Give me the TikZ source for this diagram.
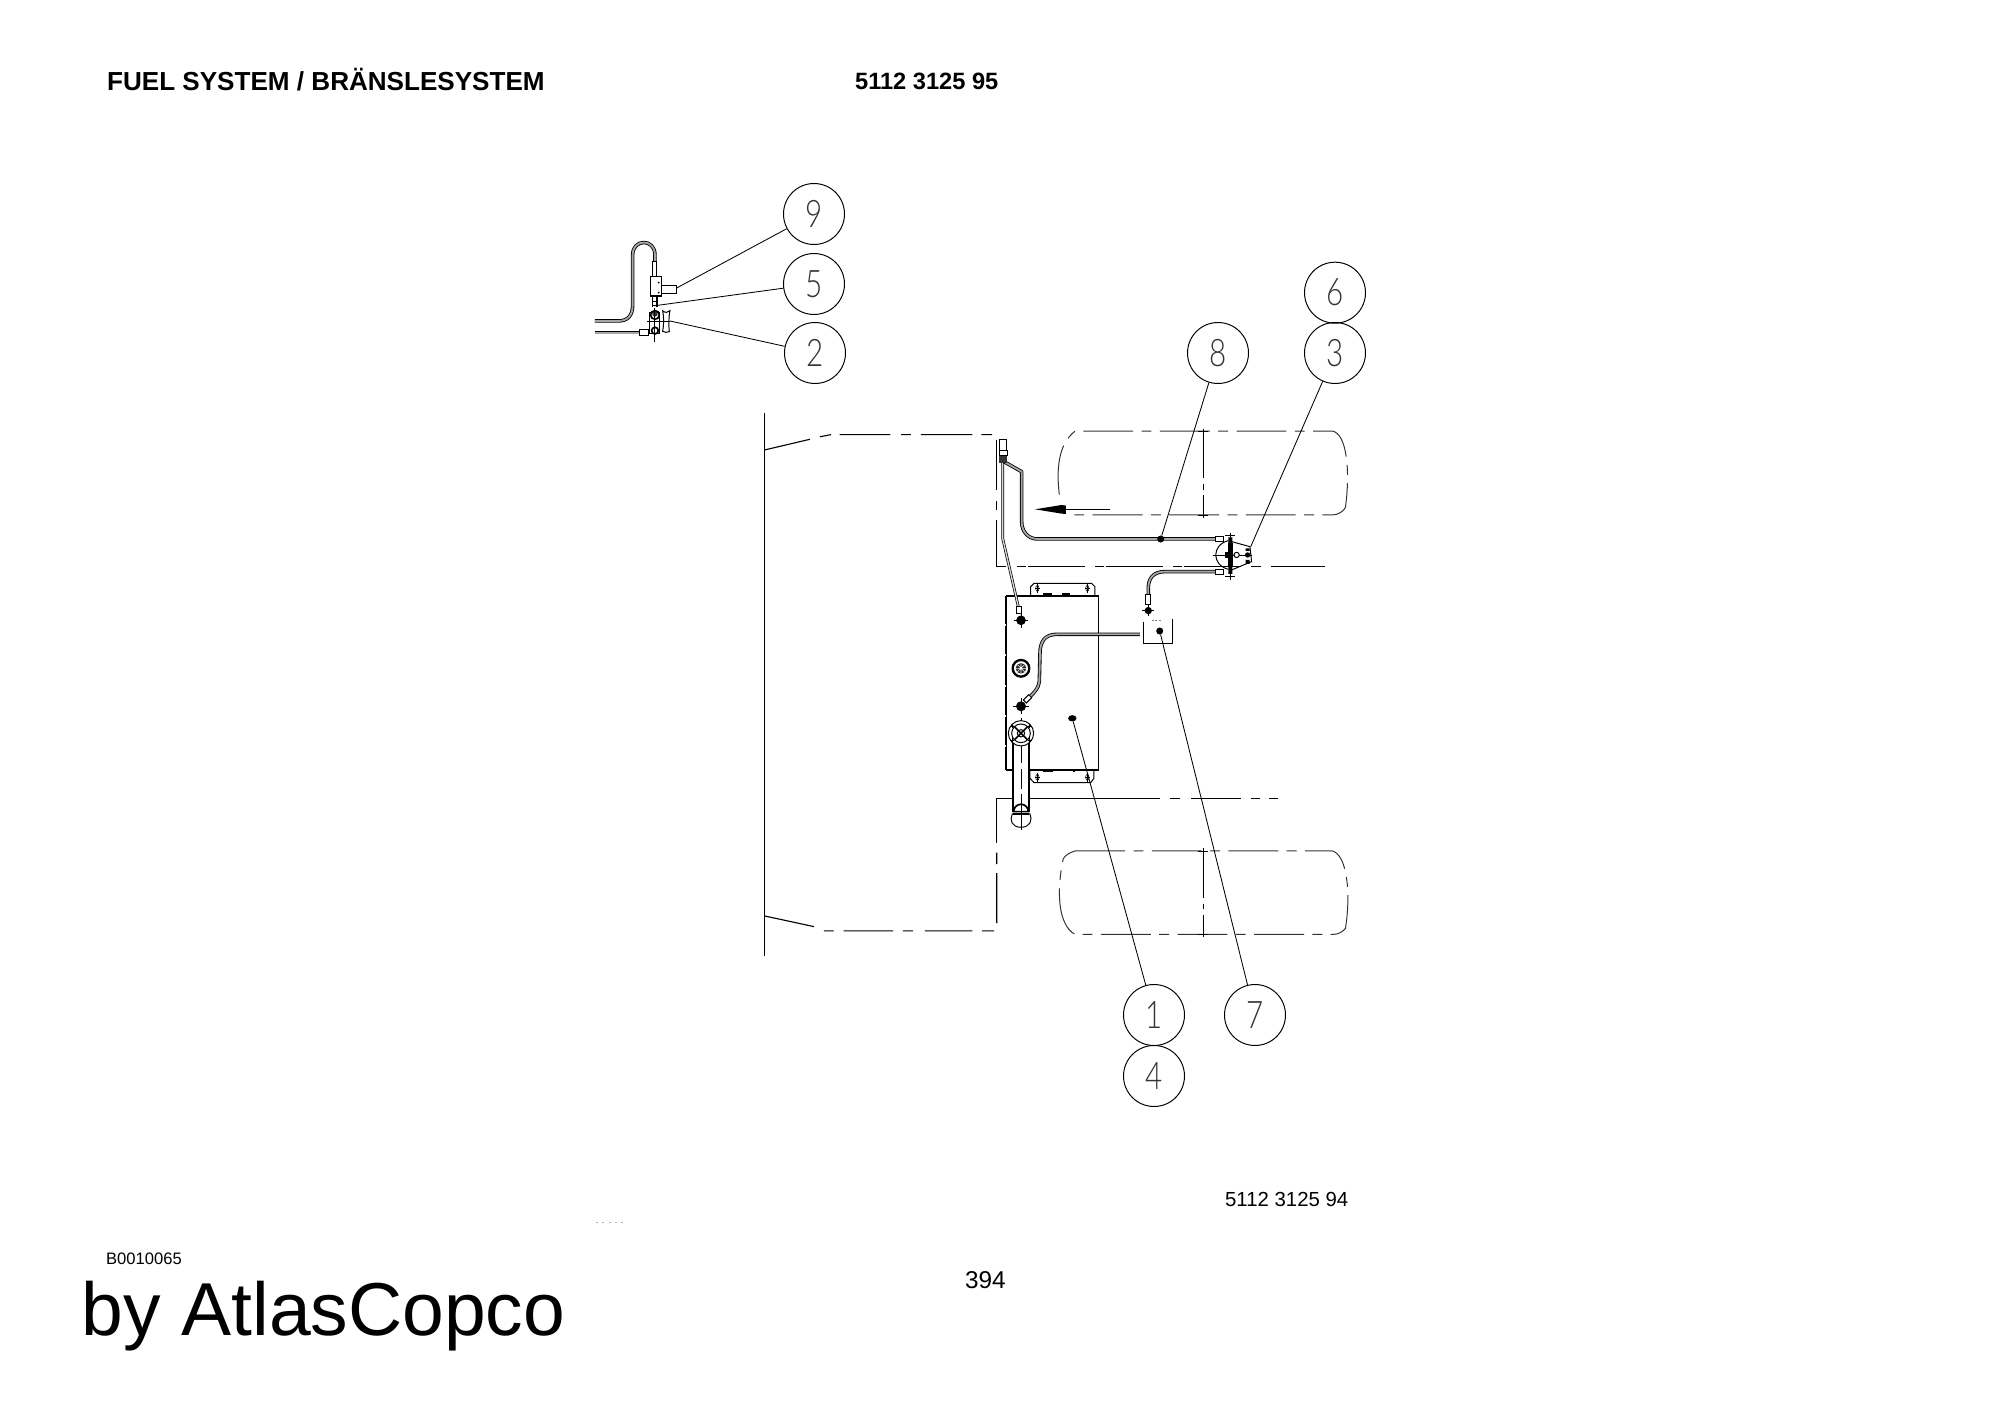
\documentclass[tikz,border=0pt]{standalone}
\usepackage{fontspec}
\usetikzlibrary{shapes.geometric}
\setmainfont{Liberation Sans}
\newfontfamily\balloonfont{Lato Light}
\usepackage{graphicx}
\newcommand{\nutmark}[3]{%
  \fill[black] (#1,#2) circle (#3);
  \draw[fine] ({#1-1.6*#3},#2) -- ({#1+1.6*#3},#2) ({#1},{#2-1.6*#3}) -- ({#1},{#2+1.6*#3});}
\newcommand{\hole}[2]{%
  \draw[fine] (#1,#2) ellipse (5 and 9);
  \draw[fine] ({#1-8},#2) -- ({#1+8},#2) (#1,{#2-13}) -- (#1,{#2+13});}
\newcommand{\bl}[1]{\scalebox{0.78}[1]{#1}}
\tikzset{
  balloon/.style={circle,draw=black,line width=1.4pt,minimum size=3.05cm,inner sep=0pt,font=\fontsize{54pt}{54pt}\balloonfont,text=black!80},
  leader/.style={draw=black,line width=1.2pt},
  dotmark/.style={circle,fill=black,inner sep=0pt,minimum size=10pt},
  hidden/.style={draw=black,line width=1.6pt},
  tire/.style={draw=black!80,line width=1.4pt,dash pattern=on 71pt off 12pt on 14pt off 12pt},
  fine/.style={draw=black,line width=0.8pt},
  part/.style={draw=black,line width=1.4pt},
  heavy/.style={draw=black,line width=2.4pt},
  pipe/.style={draw=black,line width=1.2pt,double=black!35,double distance=2.6pt,line join=round},
  slimpipe/.style={draw=black,line width=1pt,double=black!15,double distance=1.9pt,line join=round},
  zoomz/.style={x=0.016667cm,y=-0.016667cm},
  label/.style={anchor=base west,inner sep=0pt,text=black},
}
\begin{document}
\begin{tikzpicture}[x=0.05cm,y=-0.05cm]
\useasboundingbox (0,0) rectangle (2000,1415);
\fill[white] (0,0) rectangle (2000,1415);

% texts
\node[label,font=\fontsize{37.1pt}{38pt}\selectfont\bfseries] (title) at (107,90.7) {FUEL SYSTEM / BRÄNSLESYSTEM};
\node[label,font=\fontsize{33.6pt}{34pt}\selectfont\bfseries] (nra) at (855,89) {5112 3125 95};
\node[label,font=\fontsize{29pt}{30pt}\selectfont] (nrb) at (1225,1206) {5112 3125 94};
\node[label,font=\fontsize{34.6pt}{35pt}\selectfont] (page) at (965,1288) {394};
\node[label,font=\fontsize{23.6pt}{24pt}\selectfont] (code) at (106,1264) {B0010065};
\node[label,font=\fontsize{106.7pt}{107pt}\selectfont] (by) at (81.5,1335) {by AtlasCopco};
\draw[black!30,line width=1pt,dash pattern=on 3pt off 6pt] (596,1222) -- (626,1222);

% balloons
\node[balloon] (b9) at (814,214) {\bl{9}};
\node[balloon] (b5) at (814,284) {\bl{5}};
\node[balloon] (b2) at (815,353) {\bl{2}};
\node[balloon] (b6) at (1335,292.7) {\bl{6}};
\node[balloon] (b3) at (1335,353) {\bl{3}};
\node[balloon] (b8) at (1218,353) {\bl{8}};
\node[balloon] (b1) at (1154,1015) {\bl{1}};
\node[balloon] (b4) at (1154,1076) {\bl{4}};
\node[balloon] (b7) at (1255,1015) {\bl{7}};

% ---------- vehicle outline (coordinates of the large crop)
\begin{scope}[shift={(760.5,400)},x=0.019786cm,y=-0.017857cm]
  \draw[black,line width=2.2pt] (10,35) -- (10,1557);
  \draw[hidden] (10,140) -- (125,110) (150,103) -- (178,97) (200,97) -- (328,97) (355,97) -- (380,97) (405,97) -- (535,97) (558,97) -- (585,97);
  \draw[hidden] (597,112) -- (597,252) (597,283) -- (597,308) (597,336) -- (597,467) -- (620,467)
     (649,467) -- (672,467) (676,467) -- (821,467) (846,467) -- (869,467) (873,467) -- (1018,467)
     (1043,467) -- (1066,467) (1070,467) -- (1215,467) (1240,467) -- (1265,467) (1289,467) -- (1425,467);
  \draw[hidden] (597,1240) -- (597,1115) -- (680,1115) -- (1010,1115) (1035,1115) -- (1060,1115) (1088,1115) -- (1215,1115) (1240,1115) -- (1262,1115) (1285,1115) -- (1308,1115);
  \draw[hidden] (597,1268) -- (597,1300) (597,1325) -- (597,1465)
     (590,1487) -- (560,1487) (535,1487) -- (415,1487) (385,1487) -- (360,1487) (335,1487) -- (210,1487) (185,1487) -- (160,1487) (135,1475) -- (10,1445);
  % wheels
  \draw[tire] (755,265) .. controls (748,200) and (750,125) .. (795,87) -- (1445,87) .. controls (1482,95) and (1490,200) .. (1478,300) .. controls (1475,310) and (1460,322) .. (1445,322) -- (790,322);
  \draw[tire] (795,1263) -- (1445,1263) .. controls (1482,1275) and (1492,1380) .. (1478,1480) .. controls (1470,1490) and (1460,1497) .. (1445,1497) -- (795,1497) .. controls (750,1470) and (748,1370) .. (765,1285) .. controls (770,1275) and (780,1268) .. (795,1263);
  \draw[fine,dash pattern=on 71pt off 8pt on 8pt off 8pt] (1118,80) -- (1118,330);
  \draw[fine,dash pattern=on 71pt off 8pt on 8pt off 8pt] (1118,1255) -- (1118,1505);
  \draw[fine] (1105,322) -- (1131,322) (1105,1497) -- (1131,1497) (1105,87) -- (1131,87) (1105,1263) -- (1131,1263);
\end{scope}

% ---------- tank, filler and fuel pipes (crop at 980,590)
\begin{scope}[shift={(980,590)},zoomz]
  \draw[heavy] (78,18) -- (356,18) (78,540) -- (356,540);
  \draw[part] (78,18) rectangle (356,540);
  \draw[heavy,dash pattern=on 40pt off 3pt] (78,18) -- (78,540);
  \draw[heavy,dash pattern=on 40pt off 3pt] (356,18) -- (356,540);
  % brackets
  \draw[part] (152,18) -- (152,-10) -- (162,-20) -- (335,-20) -- (345,-10) -- (345,18);
  \hole{172}{-5}\hole{322}{-5}
  \draw[heavy,dash pattern=on 12pt off 14pt] (190,12) -- (290,12);
  \draw[part] (150,542) -- (150,565) -- (162,578) -- (332,578) -- (342,565) -- (342,542);
  \hole{172}{562}\hole{322}{562}
  \draw[heavy,dash pattern=on 14pt off 28pt] (190,545) -- (285,545);
  % mounting points on tank
  \nutmark{123}{91}{14}
  \draw[part,fill=white] (123,235) circle (27);
  \draw[part,line width=2.4pt] (123,235) circle (24);
  \fill[black!85] (123,235) circle (16);
  \draw[white,line width=0.8pt] (105,235) -- (141,235) (123,217) -- (123,253) (112,224) -- (134,246) (112,246) -- (134,224);
  \nutmark{123}{349}{15}
  % drain pipe from tank to box
  \draw[pipe] (480,133) -- (230,133) .. controls (195,133) and (180,155) .. (180,190) -- (178,275) .. controls (175,295) and (165,305) .. (150,320);
  \draw[part,fill=white] (130,330) -- (146,314) -- (155,323) -- (139,339) -- cycle;
  % filler neck
  \fill[white] (100,460) rectangle (146,670);
  \draw[heavy] (100,460) -- (100,665) (146,460) -- (146,665);
  \draw[fine,dash pattern=on 28pt off 8pt] (123,385) -- (123,720);
  \draw[part,fill=white] (123,430) circle (38);
  \draw[part] (123,430) circle (28);
  \draw[heavy] (104,411) -- (142,449) (104,449) -- (142,411);
  \draw[part] (123,430) circle (11);
  \nutmark{97}{408}{4}\nutmark{149}{408}{4}\nutmark{97}{452}{4}\nutmark{149}{452}{4}
  \draw[part,fill=white] (97,672) .. controls (88,690) and (95,712) .. (123,712) .. controls (151,712) and (158,690) .. (150,672) -- cycle;
  \draw[heavy,fill=white] (101,665) arc[start angle=180,end angle=360,radius=22] -- cycle;
  \draw[heavy] (100,672) -- (146,672);
  \draw[fine] (123,640) -- (123,720);
  % box
  \draw[part] (490,95) -- (490,160) -- (578,160) -- (578,88);
  \draw[black!50,line width=0.8pt,dash pattern=on 3pt off 2pt] (515,90) -- (545,90);
\end{scope}

% ---------- upper pipes (crop at 980,420)
\begin{scope}[shift={(980,420)},zoomz]
  \draw[slimpipe] (68,125) -- (68,355) -- (115,560);
  \draw[pipe] (72,125) -- (125,155) -- (125,305) .. controls (125,335) and (145,357) .. (172,357) -- (710,357);
  \draw[part,fill=white] (58,58) rectangle (80,90);
  \fill[black!80] (58,105) rectangle (82,130);
  \draw[part] (58,90) rectangle (82,105);
  \draw[part,fill=white] (108,560) rectangle (124,582);
  \nutmark{123}{601}{14}
  \draw[pipe] (710,455) -- (555,455) .. controls (520,455) and (505,475) .. (505,505) -- (505,525);
  \draw[part,fill=white] (497,525) rectangle (513,555);
  \nutmark{505}{572}{11}
  % clamp
  \draw[part,fill=white] (708,350) rectangle (730,366);
  \draw[part,fill=white] (708,449) rectangle (730,465);
  \draw[part] (745,362) .. controls (695,375) and (695,435) .. (745,448);
  \draw[part] (755,365) -- (810,380) -- (815,425) -- (755,450);
  \fill[black] (745,352) rectangle (757,370) (745,440) rectangle (757,462);
  \draw[heavy] (747,370) -- (747,440) (756,370) -- (756,440);
  \draw[fine] (750,340) -- (750,480) (700,405) -- (815,405);
  \draw[fine] (735,345) -- (765,345) (735,470) -- (765,470);
  \fill[black] (735,396) rectangle (760,414);
  \draw[part,fill=white] (770,405) circle (8);
  \fill[black] (803,405) circle (8);
  \fill[black] (797,385) rectangle (809,393) (797,420) rectangle (809,432);
  % direction arrow
  \fill[black] (165,268) -- (245,255) -- (258,257) -- (258,282) -- (245,281) -- cycle;
  \coordinate (arrowback) at (258,268);
  \coordinate (arrowfree) at (390,268);
  \draw[part] (arrowback) -- (arrowfree);
\end{scope}

% ---------- detail view (crop at 560,160)
\begin{scope}[shift={(560,160)},zoomz]
  \draw[pipe] (105,483) -- (175,483) .. controls (205,483) and (218,465) .. (218,435) -- (218,285) .. controls (218,235) and (285,235) .. (285,285) -- (285,325);
  \draw[pipe] (105,518) -- (240,518);
  \draw[part,fill=white] (278,305) rectangle (291,350);
  \draw[heavy,fill=white] (272,350) rectangle (305,408);
  \draw[part,fill=white] (305,378) rectangle (350,400);
  \fill[black] (296,368) circle (3) (296,398) circle (3);
  \draw[heavy] (278,408) -- (278,440) (292,408) -- (292,440);
  \draw[heavy] (276,425) -- (294,425) (276,437) -- (294,437);
  \draw[part,fill=white] (240,510) rectangle (265,527);
  \draw[part,fill=white] (268,458) rectangle (300,522);
  \draw[heavy] (285,465) circle (13);
  \fill[black!80] (285,462) circle (8);
  \draw[heavy] (285,512) circle (10);
  \draw[part,fill=white] (308,452) .. controls (316,460) and (324,458) .. (330,452) .. controls (326,470) and (326,498) .. (328,515) .. controls (322,518) and (314,518) .. (308,514) .. controls (312,495) and (312,470) .. (308,452) -- cycle;
  \draw[fine] (260,483) -- (330,483) (283,445) -- (283,545);
\end{scope}

% ---------- leader anchors and leaders
\node[dotmark] (d8) at (1160.7,539) {};
\node[dotmark] (d7) at (1159.7,631) {};
\node[dotmark,ellipse,minimum width=12pt,minimum height=9pt] (d1) at (1072.3,718.3) {};
\coordinate (e3) at (1250.7,546.7);
\coordinate (e9) at (676.7,288);
\coordinate (e5) at (655,305.7);
\coordinate (e2) at (670,321);
\draw[leader] (d8) -- (b8);
\draw[leader] (d7) -- (b7);
\draw[leader] (d1) -- (b1);
\draw[leader] (e3) -- (b3);
\draw[leader] (e9) -- (b9);
\draw[leader] (e5) -- (b5);
\draw[leader] (e2) -- (b2);
\end{tikzpicture}
\end{document}
